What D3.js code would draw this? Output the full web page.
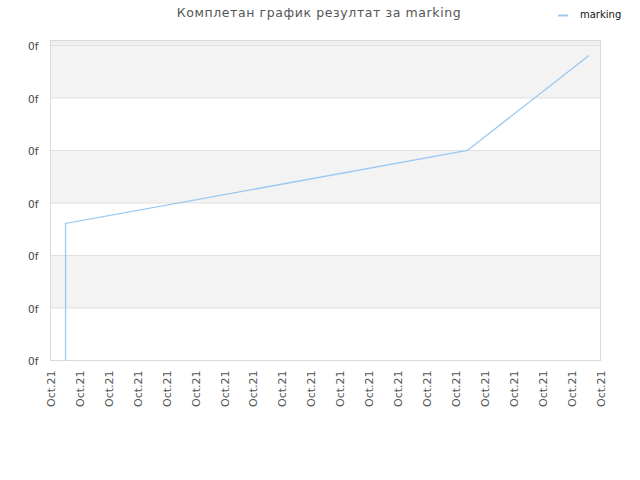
<!DOCTYPE html>
<html><head><meta charset="utf-8">
<script src="https://cdn.jsdelivr.net/npm/d3@7"></script>
<style>body{margin:0;background:#fff;} svg{display:block;font-family:"DejaVu Sans",sans-serif;}</style>
</head><body>
<svg id="c" width="640" height="480"></svg>
<script>
const title = "Комплетан график резултат за marking";
const seriesName = "marking";
const xTickLabels = ["Oct.21","Oct.21","Oct.21","Oct.21","Oct.21","Oct.21","Oct.21","Oct.21","Oct.21","Oct.21","Oct.21","Oct.21","Oct.21","Oct.21","Oct.21","Oct.21","Oct.21","Oct.21","Oct.21","Oct.21"];
const yTickValues = [0,1,2,3,4,5,6];
const yTickLabels = ["0f","0f","0f","0f","0f","0f","0f"];
const xPos = [0.52, 0.52, 14.4, 18.6];
const yVals = [0, 2.61, 4.0, 5.81];

const svg = d3.select("#c");
const m = {l:50.5, r:600.5, t:40.5, b:360.5};
const x = d3.scaleLinear().domain([0, xTickLabels.length-1]).range([m.l, m.r]);
const y = d3.scaleLinear().domain([0, 6]).range([m.b, 45.5]);

// bands
const g = svg.append("g");
g.append("rect").attr("x",m.l).attr("y",m.t).attr("width",m.r-m.l).attr("height",y(6)-m.t).attr("fill","#f0f0f0");
for (let i=0;i<6;i++){
  const v0=i, v1=i+1;
  const isGray = ((6-v1)%2===0);
  g.append("rect").attr("x",m.l).attr("y",y(v1)).attr("width",m.r-m.l).attr("height",y(v0)-y(v1))
    .attr("fill", isGray ? "#f3f3f3" : "#ffffff");
}
// grid lines
g.selectAll("line.grid").data(yTickValues).enter().append("line")
  .attr("x1",m.l).attr("x2",m.r).attr("y1",d=>y(d)).attr("y2",d=>y(d))
  .attr("stroke","#e0e0e0").attr("stroke-width",1);
// frame
g.append("rect").attr("x",m.l).attr("y",m.t).attr("width",m.r-m.l).attr("height",m.b-m.t)
  .attr("fill","none").attr("stroke","#dadada").attr("stroke-width",1);

// y axis labels
const yAxis = d3.axisLeft(y).tickValues(yTickValues).tickSize(0).tickPadding(0)
  .tickFormat((d,i)=>yTickLabels[i]);
const ya = svg.append("g").attr("transform",`translate(${m.l-12},0)`).call(yAxis);
ya.select(".domain").remove();
ya.selectAll("text").attr("fill","#444").attr("font-size","10.5px").attr("font-family","DejaVu Sans, sans-serif").attr("dy","0.4em");

// x axis labels
const xAxis = d3.axisBottom(x).tickValues(d3.range(xTickLabels.length)).tickSize(0).tickPadding(0)
  .tickFormat((d,i)=>xTickLabels[i]);
const xa = svg.append("g").attr("transform",`translate(0,${m.b})`).call(xAxis);
xa.select(".domain").remove();
xa.selectAll("text").attr("fill","#555").attr("font-size","11px").attr("font-family","DejaVu Sans, sans-serif")
  .attr("text-anchor","end").attr("transform","rotate(-90)").attr("x",-10).attr("y",0).attr("dy","0.35em");

// line
const pts = xPos.map((d,i)=>[d,yVals[i]]);
svg.append("path").datum(pts)
  .attr("d", d3.line().x(d=>x(d[0])).y(d=>y(d[1])))
  .attr("fill","none").attr("stroke","#99c8f2").attr("stroke-width",1.3);

// title
svg.append("text").attr("x",319).attr("y",17).attr("text-anchor","middle")
  .attr("font-size","12.5px").attr("fill","#555").attr("letter-spacing","0.6px").text(title);

// legend
svg.append("line").attr("x1",558).attr("x2",568).attr("y1",15.5).attr("y2",15.5).attr("stroke","#99c8f2").attr("stroke-width",2);
svg.append("text").attr("x",580).attr("y",18).attr("font-size","10px").attr("fill","#111").text(seriesName);
</script>
</body></html>
